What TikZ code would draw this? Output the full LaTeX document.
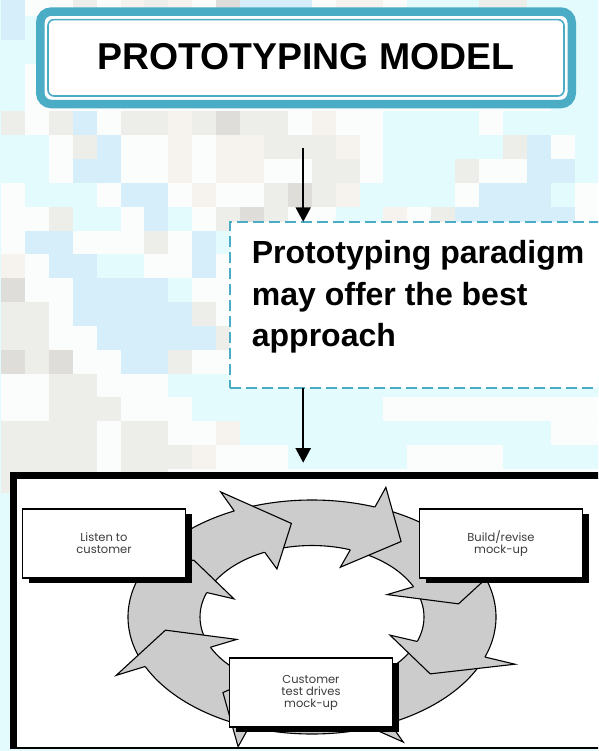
\documentclass[tikz,border=0pt]{standalone}
\usepackage{fontspec}
\setmainfont{Liberation Sans}
\newfontfamily\boxfont{Poppins}
\usetikzlibrary{arrows.meta,shadows}
\definecolor{teal5}{HTML}{4BACC6}
\definecolor{ringgray}{HTML}{CCCCCC}
\definecolor{boxtext}{HTML}{3C3C3C}
\definecolor{bgW}{HTML}{FBFCFC}
\definecolor{bgC}{HTML}{E3FBFD}
\definecolor{bgB}{HTML}{D5EEF9}
\definecolor{bgG}{HTML}{EDEDEA}
\definecolor{bgD}{HTML}{DEDDDA}
\definecolor{bgE}{HTML}{F6F3EE}
\begin{document}
\begin{tikzpicture}[x=1pt,y=-1pt,
  conn/.style={line width=2pt,-{Triangle[length=14.5pt,width=15pt]}},
  cbox/.style={draw, line width=1.8pt, fill=white, minimum width=163pt, minimum height=69pt,
    inner sep=0pt, align=center, text=boxtext, font=\boxfont\fontsize{11.5}{12}\selectfont,
    drop shadow={shadow xshift=6.5pt, shadow yshift=-4.5pt, fill=black, opacity=1}},
  edge/.style={line width=1.1pt, line join=miter}]
\useasboundingbox (0,0) rectangle (598,751);
\clip (0,0) rectangle (598,751);
% background mosaic
\fill[bgC] (0,0) rectangle (598,751);
\foreach \row [count=\r from 0] in {
 {B,W,W,G,W,E,G,E,W,D,B,B,B,W,E,E,W,C,C,C,G,G,C,C,C},
 {B,C,W,W,W,W,W,W,W,W,W,W,W,W,W,W,W,W,W,W,W,W,W,C,C},
 {C,C,W,W,W,W,W,W,W,W,W,W,W,W,W,W,W,W,W,W,W,W,W,C,C},
 {C,W,W,W,W,W,W,W,W,W,W,W,W,W,W,W,W,W,W,W,W,W,W,C,C},
 {C,W,W,W,W,W,W,W,W,W,W,W,W,W,W,W,W,W,W,W,W,W,W,C,C},
 {G,W,G,B,W,G,G,E,G,D,G,G,W,E,W,W,C,C,C,C,W,C,C,C,C},
 {C,C,W,G,B,W,W,E,W,E,E,G,G,G,E,W,C,C,C,C,C,G,B,W,C},
 {C,C,W,B,B,W,W,E,W,E,E,W,W,G,G,W,C,C,C,G,W,W,B,B,C},
 {W,C,C,C,W,B,B,W,E,W,W,G,D,G,E,C,C,C,C,W,B,B,B,C,W},
 {W,W,G,C,C,W,B,C,W,G,D,G,W,W,C,C,E,W,G,B,B,B,B,B,W},
 {W,B,B,W,W,W,G,W,B,C,W,W,W,W,W,W,W,W,W,W,W,W,W,W,W},
 {E,W,B,B,C,C,W,W,B,W,W,W,W,W,W,W,W,W,W,W,W,W,W,W,W},
 {D,W,W,B,B,B,B,C,W,W,W,W,W,W,W,W,W,W,W,W,W,W,W,W,W},
 {G,G,W,B,B,B,B,B,G,W,W,W,W,W,W,W,W,W,W,W,W,W,W,W,W},
 {G,G,W,W,B,B,B,B,B,G,W,W,W,W,W,W,W,W,W,W,W,W,W,W,W},
 {D,G,D,W,W,B,B,G,W,W,W,W,W,W,W,W,W,W,W,W,W,W,W,W,W},
 {W,W,G,G,W,W,W,C,C,C,C,C,C,C,C,C,C,C,C,C,C,C,C,C,C},
 {W,W,G,G,G,W,W,W,C,C,C,C,C,C,C,C,W,W,W,W,W,W,W,W,W},
 {G,G,G,G,W,G,G,W,W,E,C,C,C,C,C,C,C,C,C,C,C,C,C,W,W},
 {G,G,G,G,W,G,G,G,E,W,W,W,C,C,C,C,C,W,W,W,W,C,C,C,C},
 {G,G,G,G,W,G,G,W,W,W,W,W,W,W,W,W,W,W,W,W,W,W,W,W,W}}{
  \foreach \c [count=\i from 0] in \row {
    \fill[fill=bg\c] ({1+23.9*\i},{-8+23.85*\r}) rectangle ++(24.3,24.3);
  }
}
% title
\node[draw=teal5, line width=8.5pt, rounded corners=11pt, fill=white, minimum width=531.5pt,
  minimum height=92.5pt, inner sep=0pt] (titlebox) at (306,57.8) {};
\node[draw=teal5, line width=1.6pt, rounded corners=6pt, minimum width=516pt,
  minimum height=76.4pt, inner sep=0pt] (titleinner) at (306,57.8) {};
\node[font=\bfseries\fontsize{37.4}{40}\selectfont, anchor=base, inner sep=0pt] (title) at (306,70) {PROTOTYPING MODEL};
% dashed box
\node[draw=teal5, line width=2.2pt, dash pattern=on 11pt off 5pt, fill=white, minimum width=390pt,
  minimum height=166.2pt, anchor=north west, inner sep=0pt, outer sep=0pt] (pbox) at (229.9,221.8) {};
\node[font=\bfseries\fontsize{32}{41.7}\selectfont, align=left, anchor=north west, inner sep=0pt] (ptext)
  at (251.7,240) {Prototyping paradigm\\may offer the best\\approach};
% connectors
\coordinate (a1s) at (303.2,148);
\coordinate (a2e) at (303.2,462.7);
\draw[conn] (a1s) -- (a1s |- pbox.north);
\draw[conn] (a1s |- pbox.south) -- (a2e);
% frame
\node[fill=white, minimum width=606.5pt, minimum height=272.5pt, anchor=north west, inner sep=0pt, outer sep=0pt] (frame) at (13.5,475.5) {};
\draw[line width=7pt] (frame.south west) -- (frame.north west) -- (frame.north east);
\draw[line width=2pt] ([xshift=-3.5pt]frame.south west) -- (frame.south east);
% ring
\fill[ringgray, even odd rule] (312,617) ellipse [x radius=184pt, y radius=117pt]
  (312,617) ellipse [x radius=112pt, y radius=71.5pt];
\draw[edge] (312,617) ellipse [x radius=184pt, y radius=117pt];
\draw[edge] (312,617) ellipse [x radius=112pt, y radius=71.5pt];
\foreach \k in {0,...,7}{
  \pgfmathsetmacro\t{98-45*\k}
  \pgfmathsetmacro\b{\t+17}
  \fill[ringgray] ({312+184*cos(\b)},{617-117*sin(\b)}) -- ({312+216*cos(\b)},{617-138*sin(\b)})
    -- ({312+148*cos(\t)},{617-94.5*sin(\t)}) -- ({312+83*cos(\b)},{617-53*sin(\b)})
    -- ({312+112*cos(\b)},{617-71.5*sin(\b)}) -- cycle;
  \draw[edge] ({312+184*cos(\b)},{617-117*sin(\b)}) -- ({312+216*cos(\b)},{617-138*sin(\b)})
    -- ({312+148*cos(\t)},{617-94.5*sin(\t)}) -- ({312+83*cos(\b)},{617-53*sin(\b)})
    -- ({312+112*cos(\b)},{617-71.5*sin(\b)});
}
% boxes
\node[cbox] (listen) at (104,543.5) {Listen to\\customer};
\node[cbox] (build) at (501,543.5) {Build/revise\\mock-up};
\node[cbox] (test) at (311,692.5) {Customer\\test drives\\mock-up};
\end{tikzpicture}
\end{document}
